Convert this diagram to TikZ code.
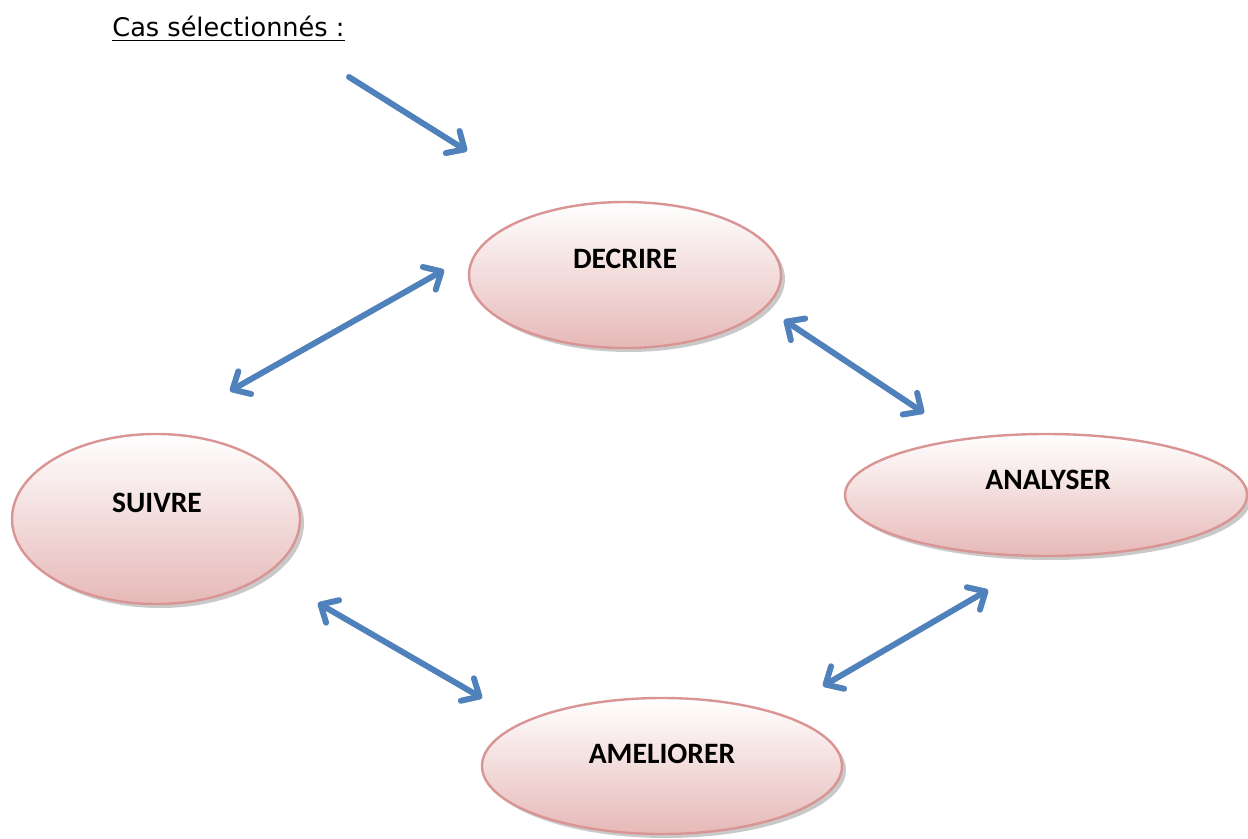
\documentclass[tikz,border=0pt]{standalone}
\usepackage{fontspec}
\setmainfont{Carlito}
\newfontfamily\titlefont{DejaVu Sans}
\usetikzlibrary{shapes.geometric,arrows.meta}
\definecolor{arrowblue}{HTML}{4F81BD}
\definecolor{ellborder}{HTML}{D99594}
\definecolor{ellfill}{HTML}{E6B9B8}
\tikzset{
  elly/.style={ellipse, draw=ellborder, line width=1.2pt, top color=white, bottom color=ellfill, inner sep=0pt},
  ellshadow/.style={ellipse, fill=black!35, opacity=0.6, inner sep=0pt},
  lbl/.style={font=\bfseries\fontsize{14.8}{16}\selectfont, text=black},
  conn/.style={draw=arrowblue, line width=2.9pt, line cap=round},
  connshadow/.style={draw=black!25, line width=2.9pt, line cap=round},
  bar/.tip={Straight Barb[length=7pt,width=13pt,line width=2.9pt, round]}
}
\begin{document}
\begin{tikzpicture}[x=0.5pt,y=-0.5pt]
\useasboundingbox (0,0) rectangle (1248,839);
\fill[white] (0,0) rectangle (1248,839);
% title
\node[anchor=base west, inner sep=0pt, font=\titlefont\fontsize{12.8}{14}\selectfont] (title) at (112,37) {\underline{Cas sélectionnés :}};
% shadows
\node[ellshadow, minimum width=156pt, minimum height=73pt] (decs) at (629,279) {};
\node[ellshadow, minimum width=144pt, minimum height=85pt] (suis) at (160,523) {};
\node[ellshadow, minimum width=201pt, minimum height=61pt] (anas) at (1050,499) {};
\node[ellshadow, minimum width=180pt, minimum height=68pt] (ames) at (666,770) {};
% ellipses
\node[elly, minimum width=156pt, minimum height=73pt] (decrire) at (625,275) {};
\node[elly, minimum width=144pt, minimum height=85pt] (suivre) at (156,519) {};
\node[elly, minimum width=201pt, minimum height=61pt] (analyser) at (1046,495) {};
\node[elly, minimum width=180pt, minimum height=68pt] (ameliorer) at (662,766) {};
% labels
\node[lbl] (decrireT) at (625,259) {DECRIRE};
\node[lbl] (suivreT) at (157,503) {SUIVRE};
\node[lbl] (analyserT) at (1048,480) {ANALYSER};
\node[lbl] (ameliorerT) at (662,754) {AMELIORER};
% arrow coordinates
\coordinate (a0s) at (349,77); \coordinate (a0e) at (467,151);
\coordinate (a1s) at (230,391); \coordinate (a1e) at (444,270);
\coordinate (a2s) at (784,320); \coordinate (a2e) at (924,413);
\coordinate (a3s) at (318,603); \coordinate (a3e) at (482,698);
\coordinate (a4s) at (823,686); \coordinate (a4e) at (988,590);
% arrow shadows
\begin{scope}[shift={(2,4)}]
\draw[connshadow, -bar] (a0s) -- (a0e);
\draw[connshadow, bar-bar] (a1s) -- (a1e);
\draw[connshadow, bar-bar] (a2s) -- (a2e);
\draw[connshadow, bar-bar] (a3s) -- (a3e);
\draw[connshadow, bar-bar] (a4s) -- (a4e);
\end{scope}
% arrows
\draw[conn, -bar] (a0s) -- (a0e);
\draw[conn, bar-bar] (a1s) -- (a1e);
\draw[conn, bar-bar] (a2s) -- (a2e);
\draw[conn, bar-bar] (a3s) -- (a3e);
\draw[conn, bar-bar] (a4s) -- (a4e);
\end{tikzpicture}
\end{document}
